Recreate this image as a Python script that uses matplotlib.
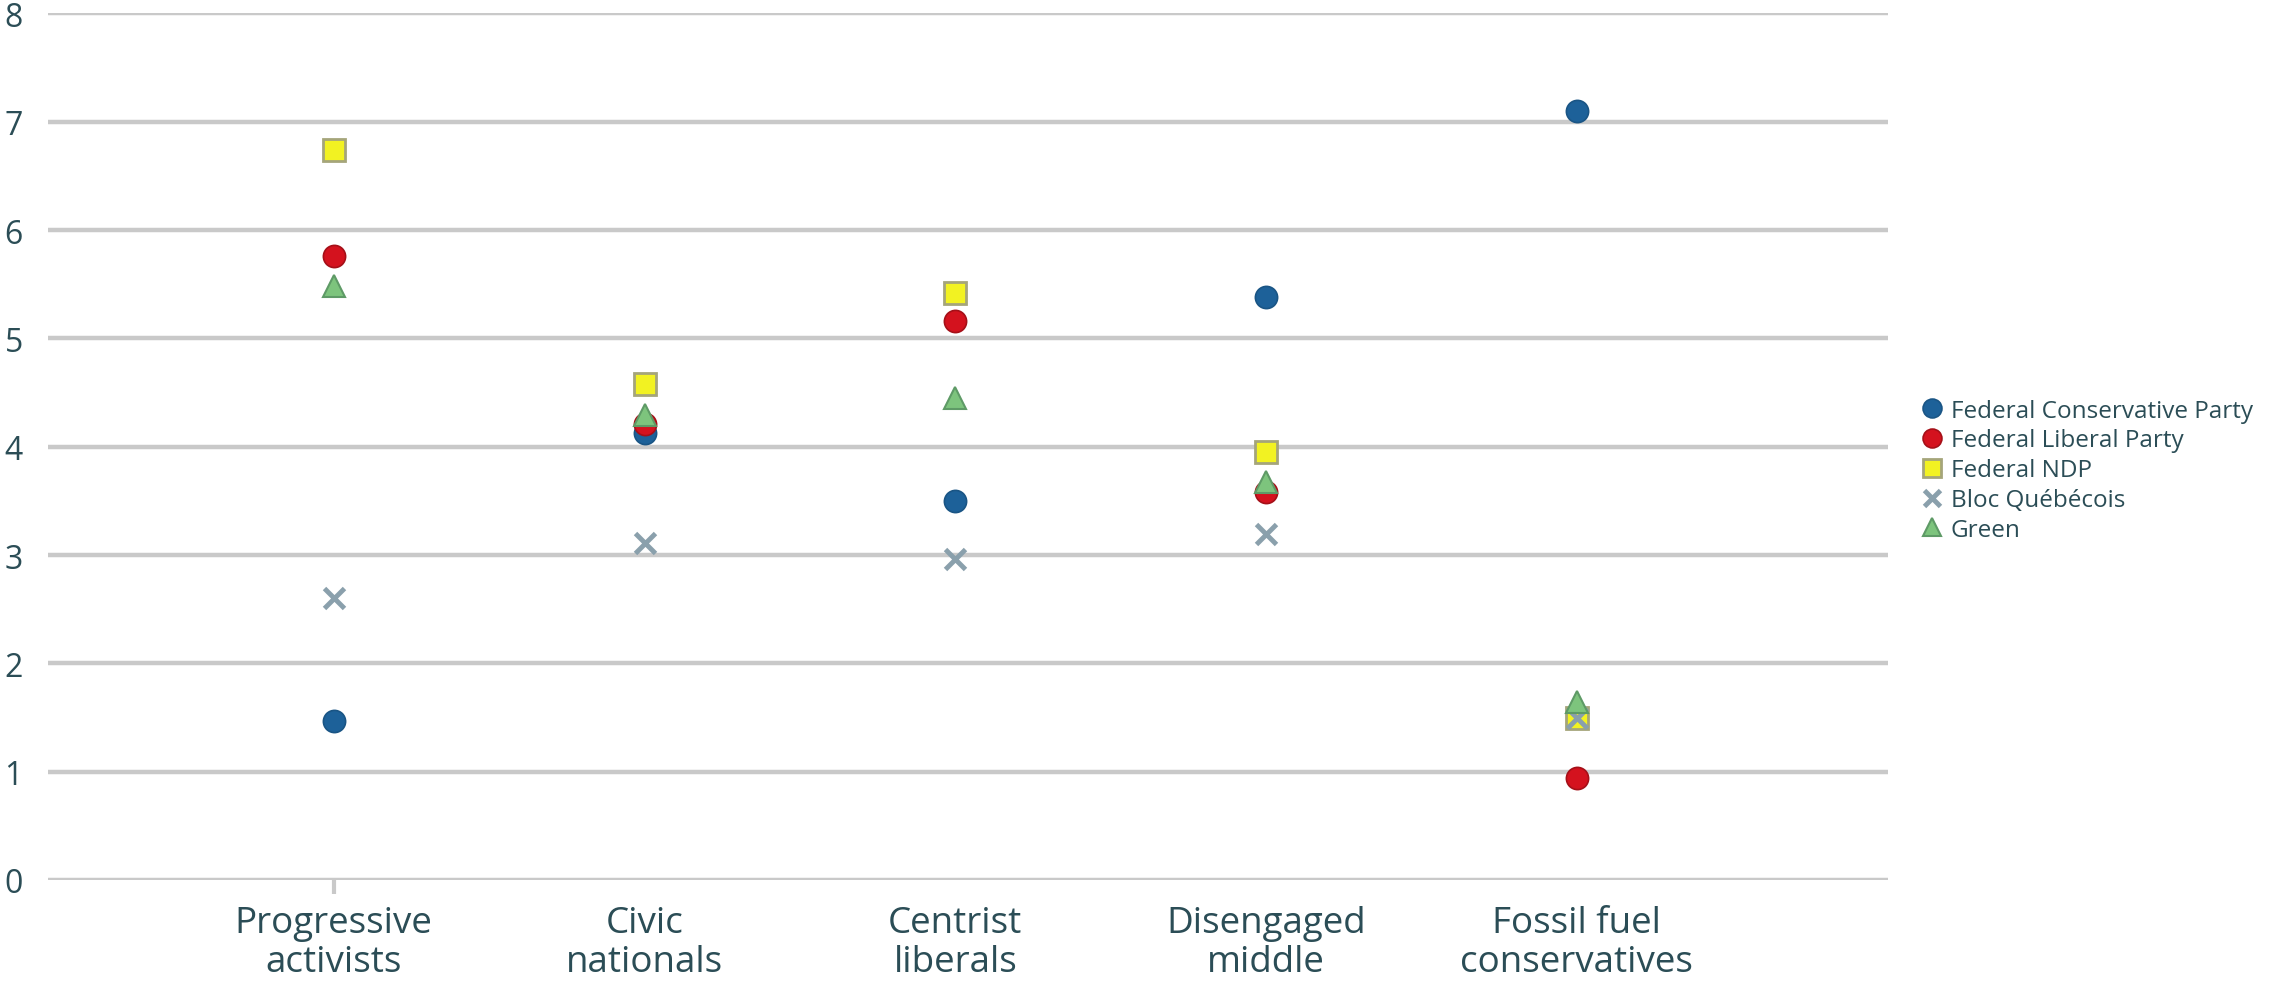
import matplotlib
matplotlib.use("Agg")
import matplotlib.pyplot as plt

plt.rcParams['font.family'] = ['Open Sans', 'DejaVu Sans']

categories = ["Progressive\nactivists", "Civic\nnationals", "Centrist\nliberals",
              "Disengaged\nmiddle", "Fossil fuel\nconservatives"]
conservative = [1.47, 4.13, 3.50, 5.38, 7.10]
liberal = [5.76, 4.21, 5.16, 3.58, 0.94]
ndp = [6.74, 4.58, 5.42, 3.95, 1.50]
bloc = [2.60, 3.11, 2.96, 3.19, 1.50]
green = [5.48, 4.29, 4.45, 3.67, 1.64]
series_names = ["Federal Conservative Party", "Federal Liberal Party", "Federal NDP",
                "Bloc Québécois", "Green"]
yticks = [0, 1, 2, 3, 4, 5, 6, 7, 8]

text_color = "#2b4d56"
fig = plt.figure(figsize=(22.77, 9.87), dpi=100)
ax = fig.add_axes([0.021, 0.1074, 0.808, 0.878])

x = list(range(1, len(categories) + 1))
ax.plot(x, conservative, 'o', ms=16, color="#1d6199", mec="#1a5585", mew=1.2, label=series_names[0], zorder=3)
ax.plot(x, liberal, 'o', ms=16, color="#d4121e", mec="#a51018", mew=1.2, label=series_names[1], zorder=3)
ax.plot(x, ndp, 's', ms=16, color="#f2f222", mec="#a5a57a", mew=2, label=series_names[2], zorder=3)
ax.plot(x, bloc, 'x', ms=14, color="#8aa0ac", mew=3.5, label=series_names[3], zorder=3)
ax.plot(x, green, '^', ms=16, color="#7dc47d", mec="#5e9a66", mew=1.5, label=series_names[4], zorder=4)

ax.set_xlim(0.08, 6.0)
ax.set_ylim(0, 8)
ax.set_yticks(yticks)
ax.set_xticks(x)
ax.set_xticklabels(categories)
ax.yaxis.grid(True, color="#c9c9c9", lw=3.2)
ax.set_axisbelow(True)
for s in ax.spines.values():
    s.set_visible(False)
ax.tick_params(axis='y', length=0, labelsize=23, labelcolor=text_color, pad=18)
ax.tick_params(axis='x', length=10, width=3, color="#c9c9c9", labelsize=26.5,
               labelcolor=text_color, pad=8)
for i, t in enumerate(ax.xaxis.get_major_ticks()):
    if i > 0:
        t.tick1line.set_visible(False)
for lab in ax.get_xticklabels():
    lab.set_linespacing(1.12)

fig.legend(loc='upper left', bbox_to_anchor=(0.839, 0.605), frameon=False,
           fontsize=17.5, labelcolor=text_color, handletextpad=0.25,
           handlelength=1.0, labelspacing=0.24, borderaxespad=0, markerscale=0.85)

fig.savefig("out.png", dpi=100, facecolor="white")
